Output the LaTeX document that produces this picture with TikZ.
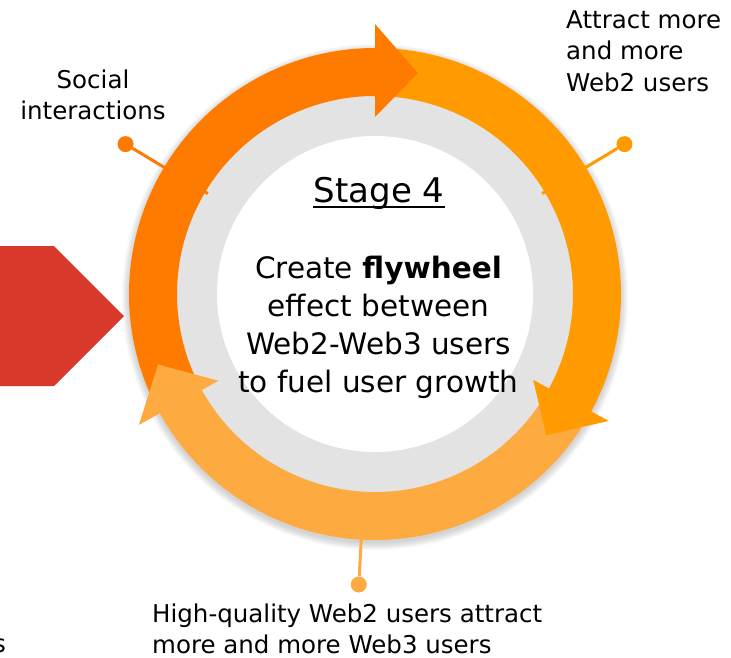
\documentclass[tikz,border=0pt]{standalone}
\usepackage{fontspec}
\setmainfont{DejaVu Sans}
\usepackage{xcolor}
\usetikzlibrary{calc,positioning}

\definecolor{darkor}{RGB}{255,123,0}
\definecolor{midor}{RGB}{255,154,0}
\definecolor{lightor}{RGB}{253,170,64}
\definecolor{ringgray}{RGB}{227,227,227}
\definecolor{redarrow}{RGB}{217,57,43}

\tikzset{
  smalltxt/.style={font=\fontsize{24.5}{31.5}\selectfont, inner sep=0},
  pindot/.style={circle, inner sep=0, minimum size=16},
  pinline/.style={line width=3}
}

\begin{document}
\begin{tikzpicture}[x=1pt,y=1pt]
\useasboundingbox (0,0) rectangle (731,-658);
\coordinate (c) at (375,-294);

% arrow coming from the left
\fill [redarrow] (-2,-246) -- (54,-246) -- (124,-316) -- (54,-386) -- (-2,-386) -- cycle;

% soft shadow and inner discs
\foreach \r in {1,...,8} \fill [black, opacity=0.025] ($(c)+(0,-3)$) circle (245+\r);
\fill [ringgray] (c) circle (200);
\fill [white] (c) circle (158);

\begin{scope}[shift={(c)}]
% pins
\node [pindot, fill=darkor] (socialdot) at (149:291) {};
\node [pindot, fill=midor] (attractdot) at (31:291) {};
\node [pindot, fill=lightor] (qualitydot) at (266.8:291) {};
\coordinate (socialend) at (149:195);
\coordinate (attractend) at (31:195);
\coordinate (qualityend) at (266.8:240);
\draw [pinline, darkor] (socialend) -- (socialdot);
\draw [pinline, midor] (attractend) -- (attractdot);
\draw [pinline, lightor] (qualityend) -- (qualitydot);

% flywheel ring
\fill [lightor] (-33:246) arc [start angle=-33, end angle=-151, radius=246]
  -- (-151:198) arc [start angle=-151, end angle=-33, radius=198] -- cycle;
\fill [midor] (86:246) arc [start angle=86, end angle=-28.5, radius=246]
  -- (-28.5:266) -- (-39.5:222) -- (-28.5:180) -- (-28.5:198)
  arc [start angle=-28.5, end angle=86, radius=198] -- cycle;
\fill [darkor] (205:246) arc [start angle=205, end angle=90, radius=246]
  -- (90:270) -- (79:225) -- (90:177) -- (90:198)
  arc [start angle=90, end angle=205, radius=198] -- cycle;
\fill [lightor] (-151:179) -- (-151:270) -- (-162:228) -- cycle;
\end{scope}

% texts
\node [font=\fontsize{34}{40}\selectfont, inner sep=0, anchor=base] (stage) at (379,-202) {Stage 4};
\draw [line width=2.5] ([yshift=-5]stage.base west) -- ([yshift=-5]stage.base east);
\node [font=\fontsize{29.5}{38}\selectfont, inner sep=0, align=center, anchor=north] (goal) at (378.5,-255.5)
  {Create \textbf{flywheel}\\effect between\\Web2-Web3 users\\to fuel user growth};

\node [smalltxt, align=center, anchor=north] (social) at (93,-69.5) {Social\\interactions};
\node [smalltxt, align=left, anchor=north west] (attract) at (566,-10) {Attract more\\and more\\Web2 users};
\node [smalltxt, align=left, anchor=north west] (quality) at (152,-603.5) {High-quality Web2 users attract\\more and more Web3 users};
\node [smalltxt, anchor=base east] (cut) at (6,-652) {s};
\end{tikzpicture}
\end{document}
